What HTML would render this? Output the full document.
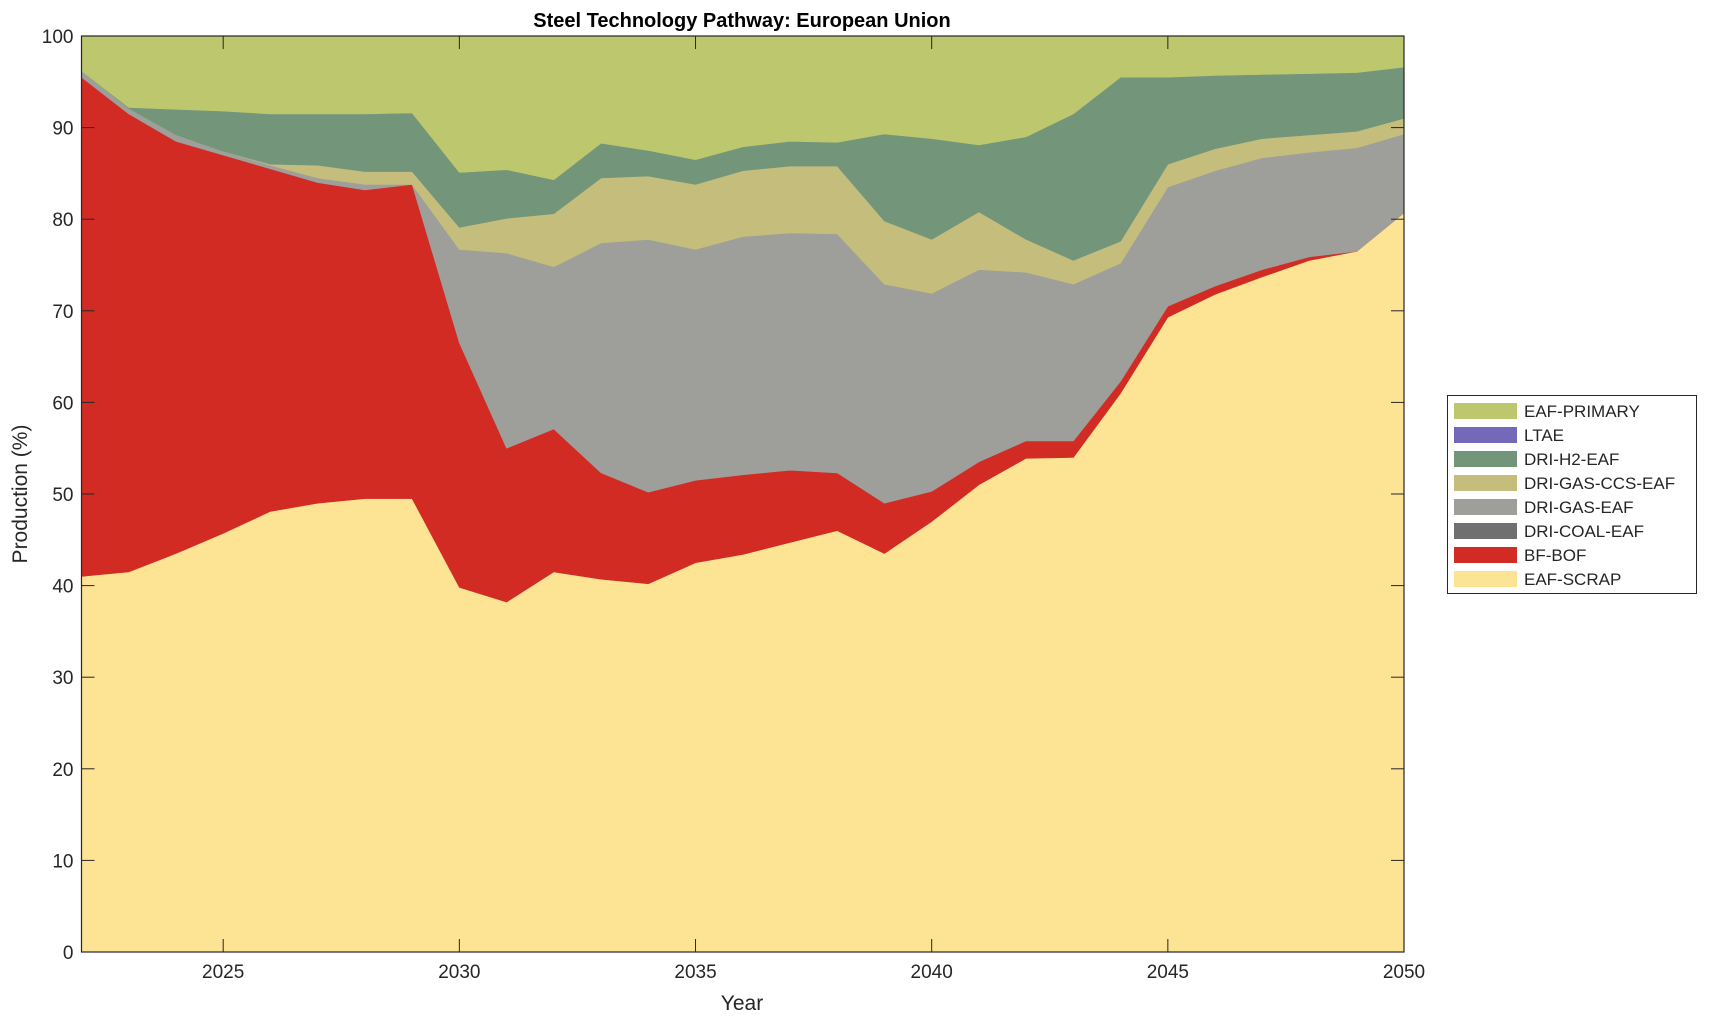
<!DOCTYPE html>
<html><head><meta charset="utf-8"><style>
body{margin:0;background:#fff;}
svg text{font-family:"Liberation Sans",Arial,sans-serif;fill:#262626;}
</style></head><body>
<svg id="c" width="1709" height="1021" xmlns="http://www.w3.org/2000/svg"></svg>
<script>
(function(){
const L=81.5,R=1404,T=36,B=952;
const X=y=>L+(y-2022)*(R-L)/28, Y=v=>B-v*(B-T)/100;
const yrs=[];for(let y=2022;y<=2050;y++)yrs.push(y);
const scrap=[41,41.5,43.5,45.7,48.1,49,49.5,49.5,39.8,38.2,41.5,40.7,40.2,42.5,43.4,44.7,46,43.5,47,51,53.9,54,61,69.3,71.8,73.7,75.5,76.5,80.7];
const bf=[95.5,91.5,88.5,87,85.5,84,83.2,83.8,66.5,55,57.1,52.3,50.2,51.5,52.1,52.6,52.3,49,50.3,53.5,55.8,55.8,62.3,70.5,72.7,74.5,75.9,76.5,80.7];
const gas=[96.2,92.1,89.2,87.4,85.9,84.5,83.8,83.8,76.7,76.3,74.8,77.4,77.8,76.7,78.1,78.5,78.4,72.9,71.9,74.5,74.2,72.9,75.2,83.5,85.3,86.7,87.3,87.8,89.3];
const ccs=[96.2,92.1,89.2,87.4,86,85.9,85.2,85.2,79.1,80.1,80.6,84.5,84.7,83.8,85.3,85.8,85.8,79.8,77.8,80.8,77.8,75.5,77.6,86,87.7,88.8,89.2,89.6,91];
const h2=[96.2,92.2,92,91.8,91.5,91.5,91.5,91.6,85.1,85.4,84.3,88.3,87.5,86.5,87.9,88.5,88.4,89.3,88.8,88.1,89,91.5,95.5,95.5,95.7,95.8,95.9,96,96.6];
const full=yrs.map(()=>100), zero=yrs.map(()=>0);
const layers=[[zero,scrap,'#fde394'],[scrap,bf,'#d22b24'],[bf,gas,'#9e9e9b'],[gas,ccs,'#c5bd7c'],[ccs,h2,'#73967b'],[h2,full,'#bdc76d']];
let s='';
for(const [lo,hi,c] of layers){
 let p=yrs.map((y,i)=>X(y).toFixed(1)+','+Y(hi[i]).toFixed(1));
 let q=yrs.map((y,i)=>X(y).toFixed(1)+','+Y(lo[i]).toFixed(1)).reverse();
 s+=`<polygon points="${p.concat(q).join(' ')}" fill="${c}" stroke="${c}" stroke-width="0.6"/>`;
}
s+=`<rect x="${L}" y="${T}" width="${R-L}" height="${B-T}" fill="none" stroke="#262626" stroke-width="1.2"/>`;
for(let v=0;v<=100;v+=10){const y=Y(v);s+=`<line x1="${L}" y1="${y}" x2="${L+13}" y2="${y}" stroke="#262626"/><line x1="${R}" y1="${y}" x2="${R-13}" y2="${y}" stroke="#262626"/><text x="${L-8}" y="${y+7}" font-size="19" text-anchor="end">${v}</text>`;}
for(let yr=2025;yr<=2050;yr+=5){const x=X(yr);s+=`<line x1="${x}" y1="${B}" x2="${x}" y2="${B-13}" stroke="#262626"/><line x1="${x}" y1="${T}" x2="${x}" y2="${T+13}" stroke="#262626"/><text x="${x}" y="978" font-size="19" text-anchor="middle">${yr}</text>`;}
s+=`<text x="742" y="1010" font-size="21" text-anchor="middle">Year</text>`;
s+=`<text transform="translate(27,494) rotate(-90)" font-size="21" text-anchor="middle">Production (%)</text>`;
s+=`<text x="742" y="27" font-size="20" font-weight="bold" text-anchor="middle" style="fill:#000">Steel Technology Pathway: European Union</text>`;
s+=`<rect x="1447.5" y="395.5" width="249" height="198" fill="#fff" stroke="#262626" stroke-width="1"/>`;
const leg=[['EAF-PRIMARY','#bdc76d'],['LTAE','#7468b8'],['DRI-H2-EAF','#73967b'],['DRI-GAS-CCS-EAF','#c5bd7c'],['DRI-GAS-EAF','#9e9e9b'],['DRI-COAL-EAF','#707070'],['BF-BOF','#d22b24'],['EAF-SCRAP','#fde394']];
leg.forEach(([n,c],i)=>{const y=411+i*24;s+=`<rect x="1454" y="${y-8}" width="63" height="16" fill="${c}"/><text x="1524" y="${y+6}" font-size="17">${n}</text>`;});
document.getElementById('c').innerHTML=s;
})();
</script>
</body></html>
